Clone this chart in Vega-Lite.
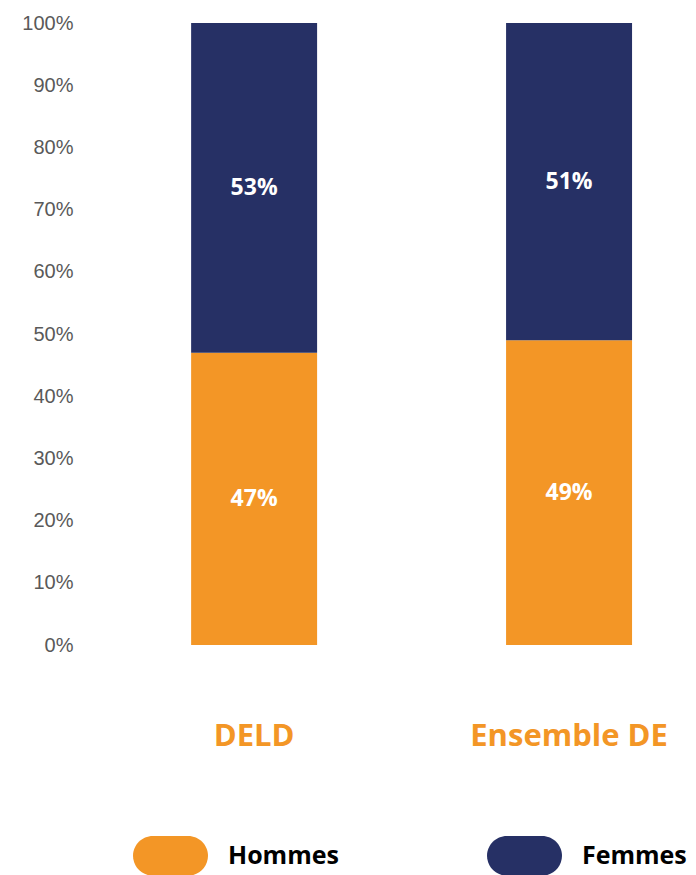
{
  "$schema": "https://vega.github.io/schema/vega-lite/v6.json",
  "width": 611,
  "height": 622,
  "autosize": {"type": "none"},
  "padding": {"left": 85, "top": 23, "right": 0, "bottom": 230},
  "background": "white",
  "config": {"view": {"stroke": null}, "font": "Open Sans"},
  "data": {"values": [
    {"groupe": "DELD", "sexe": "Hommes", "part": 0.47},
    {"groupe": "DELD", "sexe": "Femmes", "part": 0.53},
    {"groupe": "Ensemble DE", "sexe": "Hommes", "part": 0.49},
    {"groupe": "Ensemble DE", "sexe": "Femmes", "part": 0.51}
  ]},
  "encoding": {
    "x": {
      "field": "groupe", "type": "nominal",
      "scale": {"paddingInner": 0.6, "paddingOuter": 0.27, "align": 0.624},
      "axis": {"title": null, "labelFontSize": 31, "labelFont": "Open Sans", "labelFontWeight": "bold", "labelColor": "#F39626", "labelPadding": 76, "labelLimit": 400, "ticks": false, "domain": false, "labelAngle": 0}
    }
  },
  "layer": [
    {
      "mark": {"type": "bar"},
      "encoding": {
        "y": {
          "field": "part", "type": "quantitative", "stack": "zero",
          "scale": {"domain": [0, 1], "nice": false},
          "axis": {"title": null, "format": ".0%", "values": [0, 0.1, 0.2, 0.3, 0.4, 0.5, 0.6, 0.7, 0.8, 0.9, 1], "grid": false, "domain": false, "ticks": false, "tickSize": 0, "labelPadding": 12, "labelFontSize": 20, "labelColor": "#595959", "labelFont": "Liberation Sans"}
        },
        "color": {
          "field": "sexe", "type": "nominal", "sort": ["Hommes", "Femmes"],
          "scale": {"domain": ["Hommes", "Femmes"], "range": ["#F39626", "#263065"]},
          "legend": {
            "orient": "none", "legendX": 48, "legendY": 795, "direction": "horizontal", "title": null,
            "symbolType": "M -0.47 -0.53 L 0.47 -0.53 A 0.53 0.53 0 0 1 0.47 0.53 L -0.47 0.53 A 0.53 0.53 0 0 1 -0.47 -0.53 Z",
            "symbolSize": 5625, "symbolStrokeWidth": 0, "symbolOpacity": 1,
            "labelFontSize": 25, "labelFont": "Open Sans", "labelFontWeight": "bold", "labelColor": "black",
            "labelOffset": 20, "columnPadding": 148, "padding": 0
          }
        },
        "order": {"field": "sexe", "sort": "descending"}
      }
    },
    {
      "transform": [
        {"stack": "part", "groupby": ["groupe"], "sort": [{"field": "sexe", "order": "descending"}], "as": ["y0", "y1"]},
        {"fold": ["y0", "y1"], "as": ["bord", "pos"]}
      ],
      "mark": {"type": "text", "color": "white", "fontSize": 23, "fontWeight": "bold", "font": "Open Sans"},
      "encoding": {
        "y": {"aggregate": "mean", "field": "pos", "type": "quantitative", "title": null},
        "text": {"aggregate": "max", "field": "part", "type": "quantitative", "format": ".0%"},
        "detail": {"field": "sexe"}
      }
    }
  ]
}
